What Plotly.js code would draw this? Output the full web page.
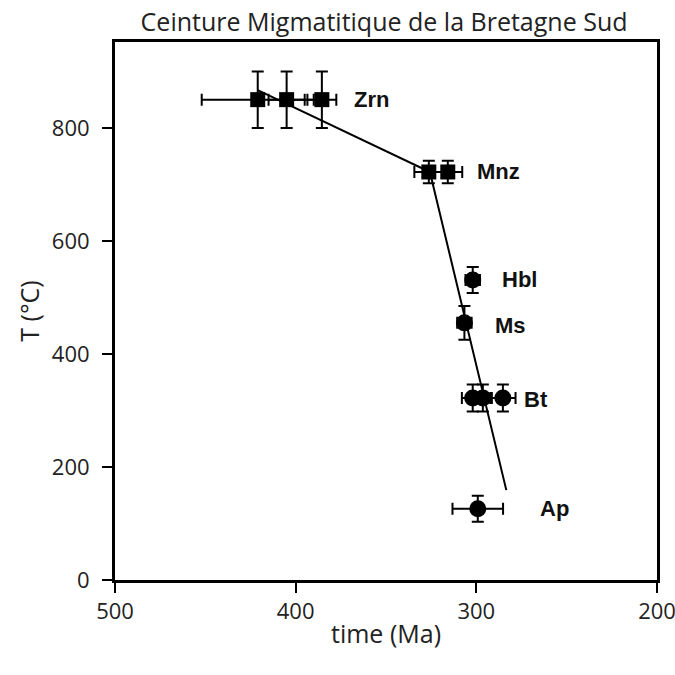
<!DOCTYPE html>
<html>
<head>
<meta charset="utf-8">
<script src="https://cdn.plot.ly/plotly-3.0.1.min.js"></script>
<style>html,body{margin:0;padding:0;background:#fff;}#chart{width:675px;height:675px;}</style>
</head>
<body>
<div id="chart"></div>
<script>
// Squares (Zrn, Mnz)
const sqTime = [421, 405, 385.5, 326.3, 315.8];
const sqTemp = [850, 850, 850, 722, 722];
const sqTimeErr = [31, 10, 8, 8, 8];
const sqTempErr = [50, 50, 50, 20, 20];
// Circles (Hbl, Ms, Bt, Ap)
const ciTime = [302, 306.6, 302, 296.4, 285.3, 299.2];
const ciTemp = [531, 455, 322, 322, 322, 126];
const ciTimeErr = [4, 4, 6, 5, 7, 14];
const ciTempErr = [23, 30, 24, 24, 24, 23];
// Cooling path
const pathTime = [421, 325.7, 283.4];
const pathTemp = [867, 722, 159];
// Mineral labels
const labels = ["Zrn", "Mnz", "Hbl", "Ms", "Bt", "Ap"];
const labelTime = [368.8, 300.8, 287, 290.8, 274.8, 265.9];
const labelTemp = [850, 722, 531, 450, 320, 126];

const errStyle = {color: '#000', thickness: 2, width: 6};
const traces = [
  {x: pathTime, y: pathTemp, mode: 'lines', line: {color: '#000', width: 2}, hoverinfo: 'skip'},
  {x: sqTime, y: sqTemp, mode: 'markers', marker: {symbol: 'square', size: 15, color: '#000'},
   error_x: Object.assign({type: 'data', array: sqTimeErr}, errStyle),
   error_y: Object.assign({type: 'data', array: sqTempErr}, errStyle)},
  {x: ciTime, y: ciTemp, mode: 'markers', marker: {symbol: 'circle', size: 17, color: '#000'},
   error_x: Object.assign({type: 'data', array: ciTimeErr}, errStyle),
   error_y: Object.assign({type: 'data', array: ciTempErr}, errStyle)}
];

const annotations = labels.map((t, i) => ({
  x: labelTime[i], y: labelTemp[i], text: t, showarrow: false,
  xanchor: 'left', yanchor: 'middle',
  font: {family: 'Liberation Sans, Arial', size: 22, color: '#111', weight: 'bold'}
}));

const axisCommon = {
  showgrid: false, zeroline: false, showline: true, mirror: true,
  linecolor: '#000', linewidth: 3, ticks: 'outside', ticklen: 10, tickwidth: 2, tickcolor: '#000',
  tickfont: {family: 'Open Sans', size: 22, color: '#222'}
};

const layout = {
  width: 675, height: 675,
  margin: {l: 115, r: 18, t: 42, b: 95},
  paper_bgcolor: '#fff', plot_bgcolor: '#fff',
  showlegend: false,
  title: {text: 'Ceinture Migmatitique de la Bretagne Sud', x: 0.569, xanchor: 'center', y: 0.98, yanchor: 'top',
          font: {family: 'Open Sans', size: 25, color: '#222'}},
  xaxis: Object.assign({}, axisCommon, {range: [500, 200], tickvals: [500, 400, 300, 200],
          ticklabeloverflow: 'allow',
          title: {text: 'time (Ma)', font: {family: 'Open Sans', size: 25, color: '#222'}, standoff: 2}}),
  yaxis: Object.assign({}, axisCommon, {range: [0, 952], tickvals: [0, 200, 400, 600, 800],
          ticklabelstandoff: 8,
          title: {text: 'T (°C)', font: {family: 'Open Sans', size: 25, color: '#222'}, standoff: 6}}),
  annotations: annotations
};

Plotly.newPlot('chart', traces, layout, {displayModeBar: false, staticPlot: true});
</script>
</body>
</html>
